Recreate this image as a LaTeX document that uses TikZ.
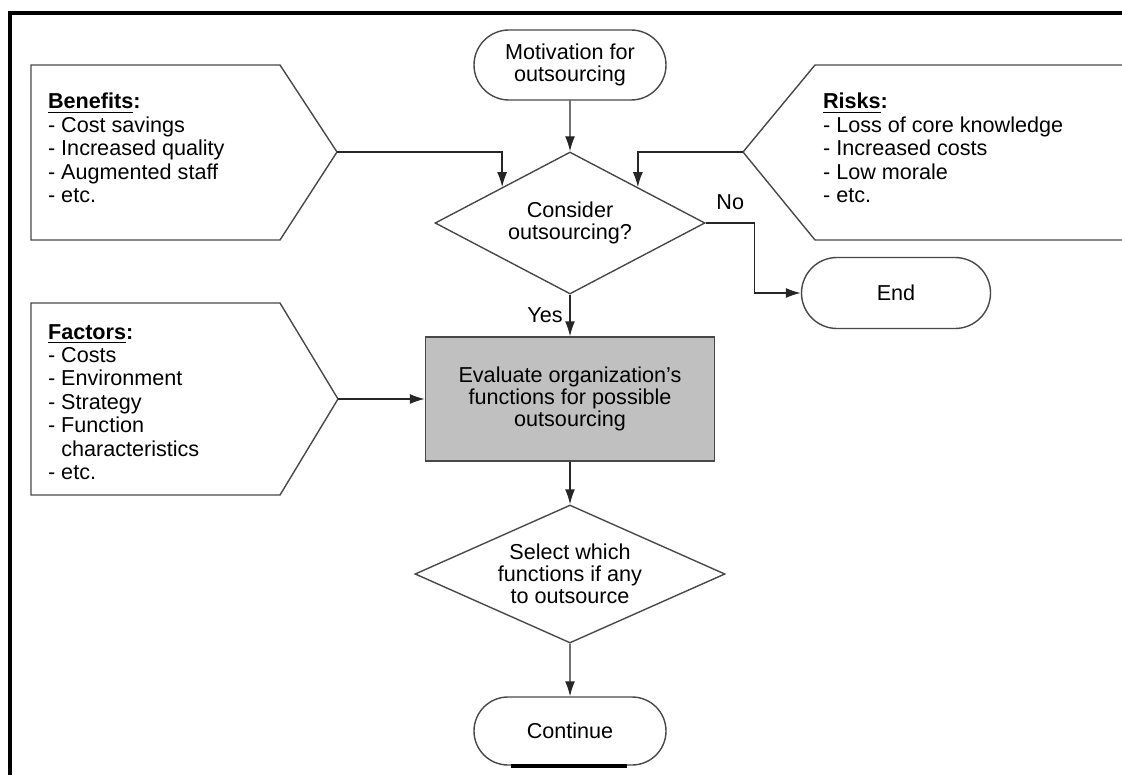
\documentclass[tikz,border=0pt]{standalone}
\usepackage{fontspec}
\setmainfont{Liberation Sans}
\usetikzlibrary{arrows.meta,positioning,shapes.geometric,shapes.misc}
\definecolor{chartLine}{RGB}{72,72,72}
\definecolor{chartGray}{RGB}{192,192,192}

\begin{document}
\begin{tikzpicture}[
  x=0.5pt, y=-0.5pt,
  every node/.style={align=center, font=\fontsize{10.8pt}{11pt}\selectfont},
  terminal/.style={draw=chartLine, rounded rectangle, line width=0.7pt,
    minimum width=98pt, minimum height=35pt, inner sep=1pt},
  decide/.style={draw=chartLine, diamond, line width=0.7pt, inner sep=0pt},
  process/.style={draw=chartLine, fill=chartGray, line width=0.7pt,
    minimum width=144.5pt, minimum height=62pt},
  panel/.style={draw=chartLine, line width=0.7pt},
  paneltext/.style={align=left, anchor=west, font=\fontsize{10.8pt}{11.7pt}\selectfont},
  flow/.style={-{Latex[length=7.5pt,width=5pt]}, line width=0.7pt, draw=black!85},
  frame/.style={line width=2pt, draw=black}
]
\useasboundingbox (0,0) rectangle (1122,775);

% - Frame -
\draw[frame] (10,775) -- (10,13.5) -- (1122,13.5);

% - Main flow -
\node[terminal] (motivation) at (570,65) {Motivation for\\outsourcing};
\node[decide, aspect=1.9, minimum width=135pt, minimum height=71pt] (consider) at (570,223) {Consider\\outsourcing?};
\node[terminal, minimum width=96.5pt, minimum height=35.5pt] (finish) at (896,293) {End};
\node[process] (evaluate) at (570,399) {Evaluate organization's\\functions for possible\\outsourcing};
\node[decide, aspect=2.25, minimum width=155pt, minimum height=69pt] (select) at (570,574) {Select which\\functions if any\\to outsource};
\node[terminal, minimum height=34pt] (continue) at (570,731) {Continue};

% - Side panels -
\draw[panel] (31,65) -- (280,65) -- (337,152) coordinate (benefitsTip)
  -- (280,240) -- (31,240) -- cycle;
\draw[panel] (1135,65) -- (815,65) -- (743,152) coordinate (risksTip)
  -- (815,240) -- (1135,240);
\draw[panel] (31,303) -- (280,303) -- (338,399) coordinate (factorsTip)
  -- (280,495) -- (31,495) -- cycle;

\node[paneltext] (benefits) at (41,148) {\underline{\textbf{Benefits}}\textbf{:}\\- Cost savings\\- Increased quality\\- Augmented staff\\- etc.};
\node[paneltext] (risks) at (816,148) {\underline{\textbf{Risks}}\textbf{:}\\- Loss of core knowledge\\- Increased costs\\- Low morale\\- etc.};
\node[paneltext] (factors) at (41,402) {\underline{\textbf{Factors}}\textbf{:}\\- Costs\\- Environment\\- Strategy\\- Function\\\phantom{- }characteristics\\- etc.};

% - Connectors -
\draw[flow] (motivation) -- (consider);
\draw[flow] (benefitsTip) -| (consider.north west);
\draw[flow] (risksTip) -| (consider.north east);
\draw[flow] (consider.east) -- node[above=3pt] {No} ++(49,0) |- (finish.west);
\draw[flow] (consider.south) -- node[left] {Yes} (evaluate.north);
\draw[flow] (factorsTip) -- (evaluate.west);
\draw[flow] (evaluate) -- (select);
\draw[flow] (select) -- (continue);
\draw[frame] ([xshift=-29.5pt]continue.south) -- ([xshift=28.5pt]continue.south);

\end{tikzpicture}
\end{document}
